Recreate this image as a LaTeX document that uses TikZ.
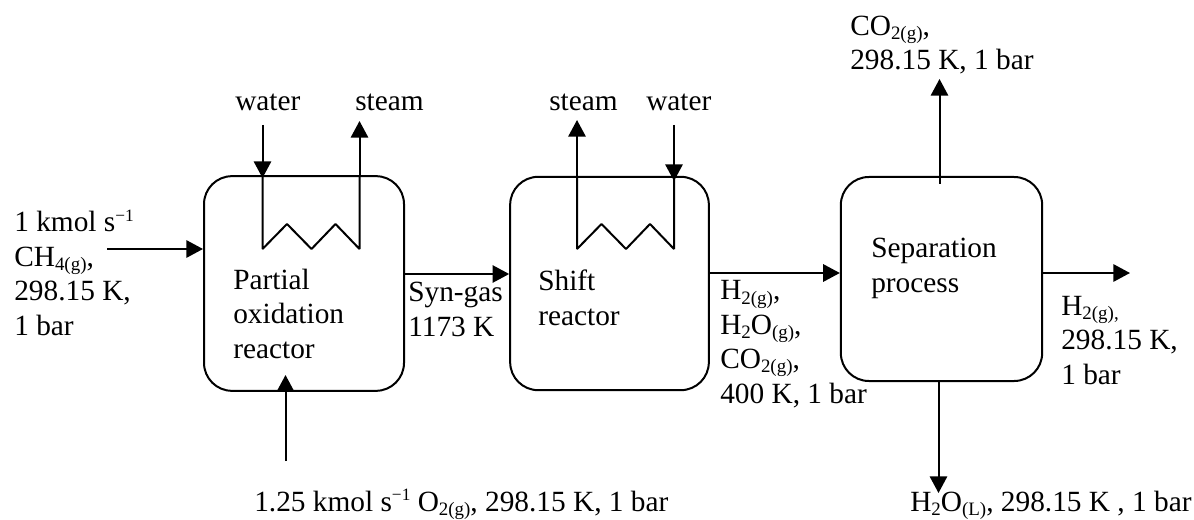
\documentclass[tikz,border=0pt]{standalone}
\usepackage{fontspec}
\setmainfont{Liberation Serif}
\usepackage{tikz}
\usetikzlibrary{calc,arrows.meta}
\newcommand{\dn}[1]{\raisebox{-3.2pt}{\fontsize{14.2}{14}\selectfont #1}}
\newcommand{\up}[1]{\raisebox{8pt}{\fontsize{13}{14}\selectfont #1}}
\tikzset{main/.style={color=black, line width=1.5pt}}
\tikzset{vessel/.style={main, draw, rounded corners=21pt, inner sep=0pt}}
\tikzset{flow/.style={main, -{Triangle[length=12.5pt,width=13pt]}}}
\tikzset{lbl/.style={anchor=base west, inner sep=0pt, align=left, font=\fontsize{22}{25.8}\selectfont}}

\begin{document}
\begin{tikzpicture}[x=0.75pt, y=-0.75pt, line join=bevel]
		\useasboundingbox (0,0) rectangle (1194,520);
		\node[vessel, minimum width=150pt, minimum height=161pt] (pox) at (304,283.5) {};
		\node[vessel, minimum width=149pt, minimum height=160pt] (shift) at (609.5,283.5) {};
		\node[vessel, minimum width=151pt, minimum height=153pt] (sep) at (941.5,279) {};
		% free ends of the streams
		\coordinate (ch4) at (107,249);
		\coordinate (o2) at (285.5,461);
		\coordinate (o2tip) at (285.5,375);
		\coordinate (syn) at (460,274);
		\coordinate (mix) at (780,273);
		\coordinate (co2) at (939.5,79);
		\coordinate (co2start) at (939.5,184);
		\coordinate (h2o) at (938.5,493);
		\coordinate (h2) at (1130,273);
		\draw[flow] (ch4) -- (ch4 -| pox.west);
		\draw[flow] (o2) -- (o2tip);
		\draw[flow] (pox.east |- syn) -- (shift.west |- syn);
		\draw[flow] (shift.east |- mix) -- (sep.west |- mix);
		\draw[flow] (sep.east |- h2) -- (h2);
		\draw[flow] (co2start) -- (co2);
		\draw[flow] (h2o |- sep.south) -- (h2o);
		% heating coils
		\foreach \x in {262.5,577} {
			\draw[main] (\x,176.5) -- (\x,249) -- ++(24.5,-25) -- ++(24.5,25) -- ++(24,-25) -- ++(24,25) -- (\x+97,176.5);
		}
		\coordinate (wa) at (262.5,125);
		\coordinate (sa) at (359.5,121);
		\coordinate (wb) at (674,125);
		\coordinate (sb) at (577,120);
		\coordinate (watera) at (262.5,178);
		\coordinate (waterb) at (674,181);
		\draw[flow] (wa) -- (watera);
		\draw[flow] (wb) -- (waterb);
		\draw[flow] (sa |- pox.north) -- (sa);
		\draw[flow] (sb |- shift.north) -- (sb);
		% labels
		\node[lbl] (lwa) at (235,111) {water};
		\node[lbl] (lsa) at (355,111) {steam};
		\node[lbl] (lsb) at (549,111) {steam};
		\node[lbl] (lwb) at (646,111) {water};
		\node[lbl] (lch4) at (14,335) {1 kmol s\up{−1}\\CH\dn{4(g)},\\298.15 K,\\1 bar};
		\node[lbl] (lpox) at (233,358) {Partial\\oxidation\\reactor};
		\node[lbl] (lsyn) at (408,336) {Syn-gas\\1173 K};
		\node[lbl] (lshift) at (538,325) {Shift\\reactor};
		\node[lbl] (lmix) at (720,403) {H\dn{2(g)},\\H\dn{2}O\dn{(g)},\\CO\dn{2(g)},\\400 K, 1 bar};
		\node[lbl] (lsep) at (871,292) {Separation\\process};
		\node[lbl] (lh2) at (1061,384) {H\dn{2(g),}\\298.15 K,\\1 bar};
		\node[lbl] (lco2) at (850,70) {CO\dn{2(g)},\\298.15 K, 1 bar};
		\node[lbl] (lo2) at (254,511) {1.25 kmol s\up{−1} O\dn{2(g)}, 298.15 K, 1 bar};
		\node[lbl] (lh2o) at (910,511) {H\dn{2}O\dn{(L)}, 298.15 K , 1 bar};
	\end{tikzpicture}
\end{document}
